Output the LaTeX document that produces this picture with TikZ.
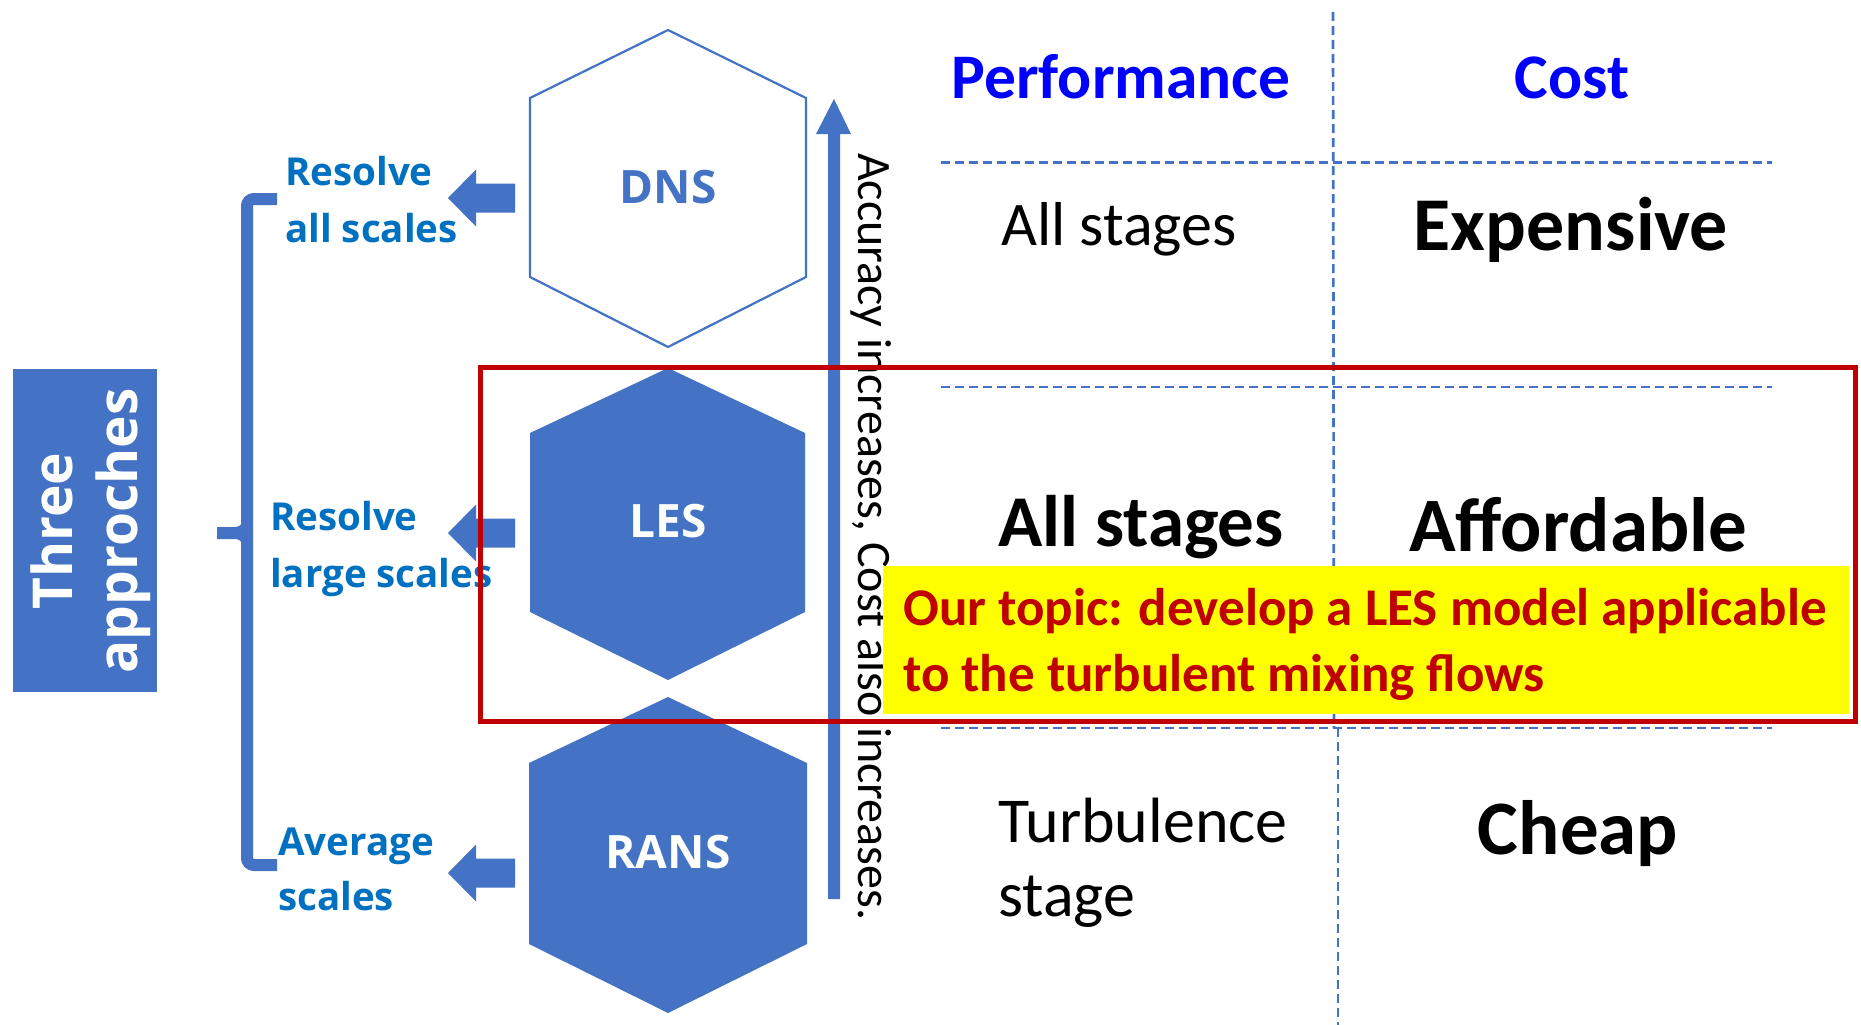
\documentclass[tikz,border=0pt]{standalone}
\usepackage{fontspec}
\setmainfont{Carlito}
\newfontfamily\segfont{Open Sans}
\definecolor{blueA}{HTML}{4472C4}
\definecolor{lblue}{HTML}{0070C0}
\definecolor{redC}{HTML}{C00000}
\definecolor{pblue}{HTML}{0000FF}
\definecolor{yel}{HTML}{FFFF00}
\newcommand\setfs[1]{\fontsize{#1}{#1}\selectfont}
\tikzset{
  lbl/.style={text=lblue, font=\segfont\bfseries\setfs{38.5}, anchor=base west, inner sep=0},
  hexlbl/.style={font=\segfont\bfseries\setfs{46}, anchor=base, inner sep=0},
  boxtxt/.style={text=white, font=\segfont\bfseries\setfs{55}, anchor=base, inner sep=0, rotate=90},
  cell/.style={anchor=base, inner sep=0},
  dashln/.style={draw=blueA, line width=2.7pt, dash pattern=on 9pt off 5pt},
  larrow/.pic={\fill[blueA] (0,-14.5) -- (-39,-14.5) -- (-39,-28.5) -- (-67,0) -- (-39,28.5) -- (-39,14.5) -- (0,14.5) -- cycle;},
}
\begin{document}
\begin{tikzpicture}[x=1pt,y=-1pt]
\useasboundingbox (0,0) rectangle (1861,1025);
\fill[white] (0,0) rectangle (1861,1025);

% table grid
\draw[dashln] (941,162.6) -- (1772,162.6);
\draw[dashln] (941,387) -- (1772,387);
\draw[dashln] (941,728) -- (1772,728);
\draw[dashln] (1333,12) -- (1334,728);
\draw[dashln] (1338,728) -- (1338,1025);

% hexagons
\draw[blueA, line width=2.2pt, fill=white] (668,30) -- (806,98) -- (806,277) -- (668,347) -- (530,277) -- (530,98) -- cycle;
\fill[blueA] (668,368) -- (805,433) -- (805,612) -- (668,680) -- (530,612) -- (530,433) -- cycle;
\fill[blueA] (668,697) -- (807,763) -- (807,944) -- (668,1013) -- (529,944) -- (529,763) -- cycle;
\node[hexlbl, text=blueA] (dns) at (668,203) {DNS};
\node[hexlbl, text=white] (les) at (668,537) {LES};
\node[hexlbl, text=white] (rans) at (668,868) {RANS};

% block arrows
\coordinate (dnsA) at (515,198);
\coordinate (lesA) at (515,533);
\coordinate (ransA) at (515,873);
\pic at (dnsA) {larrow};
\pic at (lesA) {larrow};
\pic at (ransA) {larrow};

% vertical arrow
\coordinate (vbot) at (834,899);
\coordinate (vtop) at (834,99);
\fill[blueA] (828,899) -- (828,134) -- (816,134) -- (vtop) -- (851,134) -- (840,134) -- (840,899) -- cycle;
\node[rotate=-90, anchor=base west, inner sep=0, font=\setfs{48}] (acc) at (858,153) {Accuracy increases, Cost also increases.};

% bracket
\draw[blueA, line width=12pt, rounded corners=7pt] (277,199) -- (247,199) -- (247,865) -- (277,865);
\fill[blueA] (217,527) -- (234,527) .. controls (242,527) and (244,522) .. (246,514) -- (246,552) .. controls (244,544) and (242,539) .. (234,539) -- (217,539) -- cycle;

% three approaches box
\fill[blueA] (13,369) rectangle (157,692);
\node[boxtxt] (three) at (72,531) {Three};
\node[boxtxt] (appr) at (137,531) {approches};

% labels
\node[lbl] (l1a) at (285,185) {Resolve};
\node[lbl] (l1b) at (285,242) {all scales};
\node[lbl] (l2a) at (270,530) {Resolve};
\node[lbl] (l2b) at (270,587) {large scales};
\node[lbl] (l3a) at (278,855) {Average};
\node[lbl] (l3b) at (278,910) {scales};

% table text
\node[cell, text=pblue, font=\bfseries\setfs{63.5}] (perf) at (1121,98.5) {Performance};
\node[cell, text=pblue, font=\bfseries\setfs{63.5}] (cost) at (1572,98.5) {Cost};
\node[cell, font=\setfs{62}] (p1) at (1119,245.7) {All stages};
\node[cell, font=\bfseries\setfs{76}] (c1) at (1571,250) {Expensive};
\node[cell, font=\bfseries\setfs{73}] (p2) at (1141,546) {All stages};
\node[cell, font=\bfseries\setfs{77}] (c2) at (1578,551) {Affordable};
\node[anchor=base west, inner sep=0, font=\setfs{64}] (p3a) at (998,842) {Turbulence};
\node[anchor=base west, inner sep=0, font=\setfs{64}] (p3b) at (998,916) {stage};
\node[cell, font=\bfseries\setfs{77}] (c3) at (1578,854) {Cheap};

% highlight
\draw[redC, line width=5pt] (480.5,367.5) rectangle (1855,721.5);
\fill[yel] (883,566) rectangle (1849,714);
\node[anchor=base west, inner sep=0, text=redC, font=\bfseries\setfs{53}] (top1) at (903,625) {Our topic: develop a LES model applicable};
\node[anchor=base west, inner sep=0, text=redC, font=\bfseries\setfs{53}] (top2) at (903,691) {to the turbulent mixing flows};
\end{tikzpicture}
\end{document}
